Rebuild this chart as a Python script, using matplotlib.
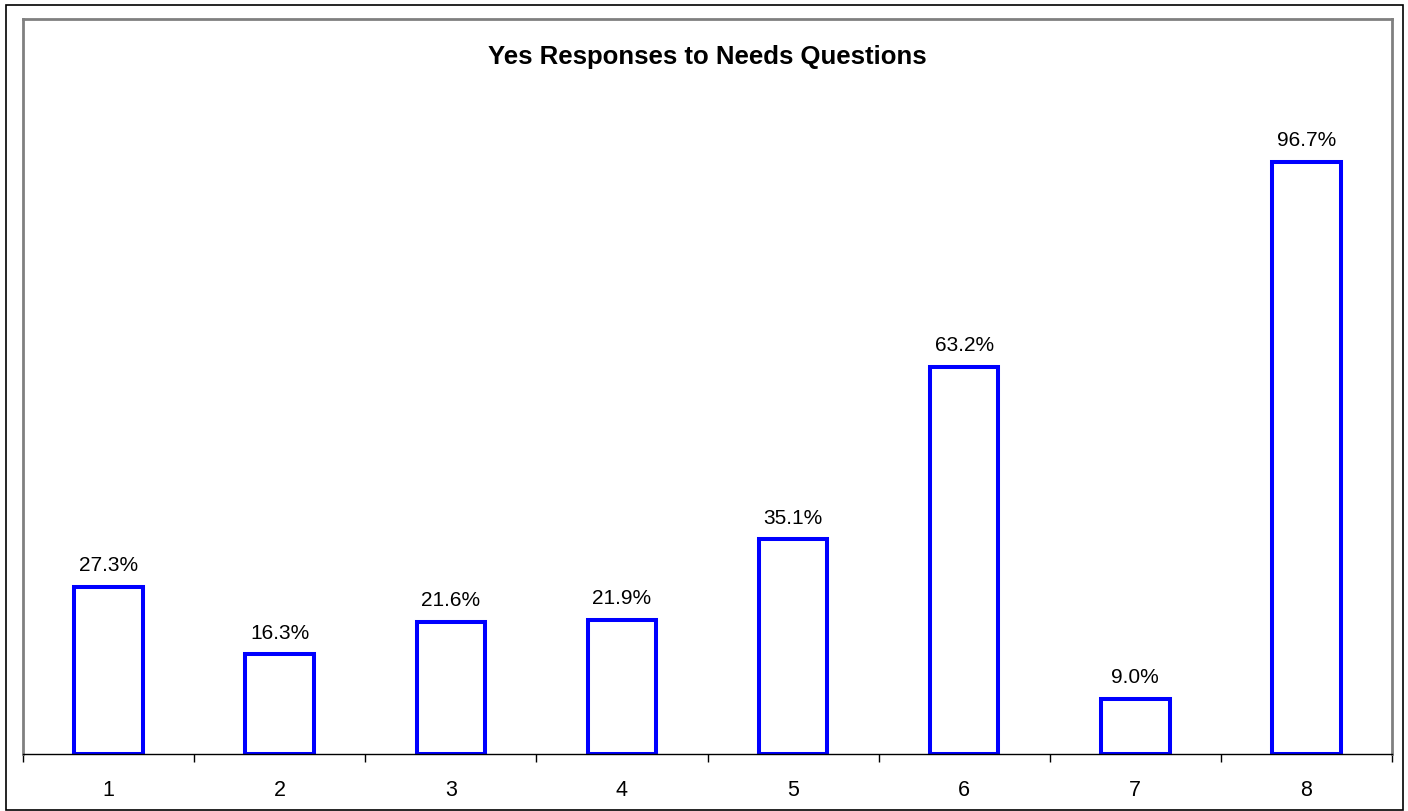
import matplotlib
matplotlib.use("Agg")
import matplotlib.pyplot as plt
from matplotlib.patches import Rectangle

plt.rcParams["font.family"] = ["Liberation Sans", "DejaVu Sans"]

questions = ["1", "2", "3", "4", "5", "6", "7", "8"]
yes_pct = [27.3, 16.3, 21.6, 21.9, 35.1, 63.2, 9.0, 96.7]

fig = plt.figure(figsize=(14.08, 8.12), dpi=100)
ax = fig.add_axes([23 / 1408, 1 - 755 / 812, (1392 - 23) / 1408, (755 - 20) / 812])

x = list(range(len(questions)))
ax.bar(x, yes_pct, width=0.40, facecolor="white", edgecolor="#0000ff", linewidth=2.9)
for xi, v in zip(x, yes_pct):
    ax.annotate(f"{v:.1f}%", (xi, v), xytext=(0, 9), textcoords="offset points",
                ha="center", va="bottom", fontsize=15)

ax.set_xlim(-0.5, len(questions) - 0.5)
ax.set_ylim(0, 120)
ax.set_yticks([])
ax.set_xticks(x)
ax.set_xticklabels(questions, fontsize=15.5)
ax.tick_params(axis="x", length=0, pad=18)
# category boundary ticks, Excel style
ax.set_xticks([i - 0.5 for i in range(len(questions) + 1)], minor=True)
ax.tick_params(axis="x", which="minor", length=6, width=1, color="black")

for side in ["left", "right", "top"]:
    ax.spines[side].set_color("#808080")
    ax.spines[side].set_linewidth(2)
ax.spines["bottom"].set_color("black")
ax.spines["bottom"].set_linewidth(1)

ax.text(0.5, 1 - 37 / 735, "Yes Responses to Needs Questions", transform=ax.transAxes,
        ha="center", va="center", fontsize=18.5, fontweight="bold")

fig.patches.append(Rectangle((6 / 1408, 0.001), 1397 / 1408, 1 - 6 / 812 - 0.001,
                             transform=fig.transFigure, fill=False,
                             edgecolor="black", linewidth=1.2))

fig.savefig("out.png", dpi=100)
